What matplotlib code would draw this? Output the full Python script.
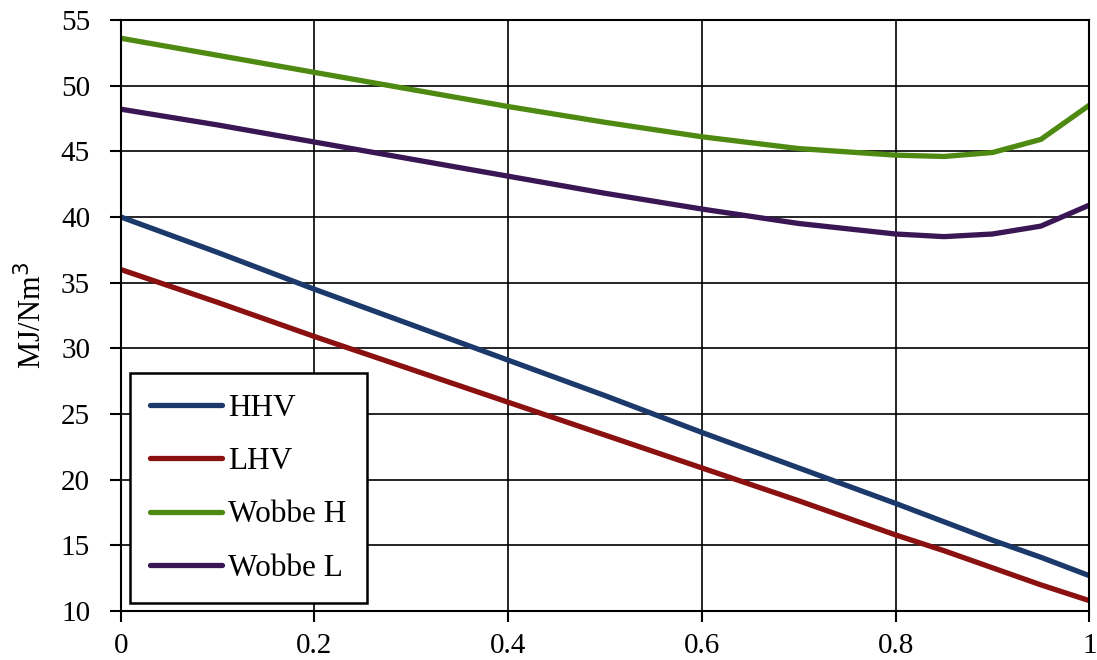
import numpy as np
import matplotlib.pyplot as plt

plt.rcParams['font.family'] = ['Liberation Serif', 'DejaVu Serif']

x = [0.0, 0.1, 0.2, 0.3, 0.4, 0.5, 0.6, 0.7, 0.8, 0.85, 0.9, 0.95, 1.0]
hhv = [40.0, 37.3, 34.5, 31.8, 29.1, 26.4, 23.6, 20.9, 18.2, 16.8, 15.4, 14.1, 12.7]
lhv = [36.0, 33.5, 30.9, 28.4, 25.9, 23.4, 20.9, 18.4, 15.8, 14.6, 13.3, 12.0, 10.8]
wobbe_h = [53.6, 52.3, 51.0, 49.7, 48.4, 47.2, 46.1, 45.2, 44.7, 44.6, 44.9, 45.9, 48.5]
wobbe_l = [48.2, 47.0, 45.7, 44.4, 43.1, 41.8, 40.6, 39.5, 38.7, 38.5, 38.7, 39.3, 40.9]

fig = plt.figure(figsize=(10.97, 6.6), dpi=100)
ax = fig.add_axes([0.110, 0.074, 0.883, 0.896])

ax.plot(x, hhv, color='#1b3a6b', lw=3.8, label='HHV', solid_capstyle='round')
ax.plot(x, lhv, color='#8b1010', lw=3.8, label='LHV', solid_capstyle='round')
ax.plot(x, wobbe_h, color='#4e8a12', lw=3.8, label='Wobbe H', solid_capstyle='round')
ax.plot(x, wobbe_l, color='#3a1654', lw=3.8, label='Wobbe L', solid_capstyle='round')

ax.set_xlim(0, 1)
ax.set_ylim(10, 55)
ax.set_xticks([0, 0.2, 0.4, 0.6, 0.8, 1])
ax.set_xticklabels(['0', '0.2', '0.4', '0.6', '0.8', '1'])
ax.set_yticks(np.arange(10, 56, 5))
ax.tick_params(direction='out', length=8, width=1.5, labelsize=21, colors='black')
ax.tick_params(axis='y', pad=14)
ax.tick_params(axis='x', pad=8)
ax.grid(True, color='black', lw=1.2)
for s in ax.spines.values():
    s.set_linewidth(1.5)
    s.set_color('black')
ax.set_ylabel('MJ/Nm$^3$', fontsize=22, labelpad=9)

leg = ax.legend(loc='lower left', bbox_to_anchor=(0.003, 0.003), fontsize=22.5,
                frameon=True, fancybox=False, edgecolor='black', framealpha=1,
                labelspacing=0.78, handlelength=2.3, handletextpad=0.2,
                borderpad=0.65, borderaxespad=0.2)
leg.get_frame().set_linewidth(1.8)

plt.savefig('out.png', dpi=100)
